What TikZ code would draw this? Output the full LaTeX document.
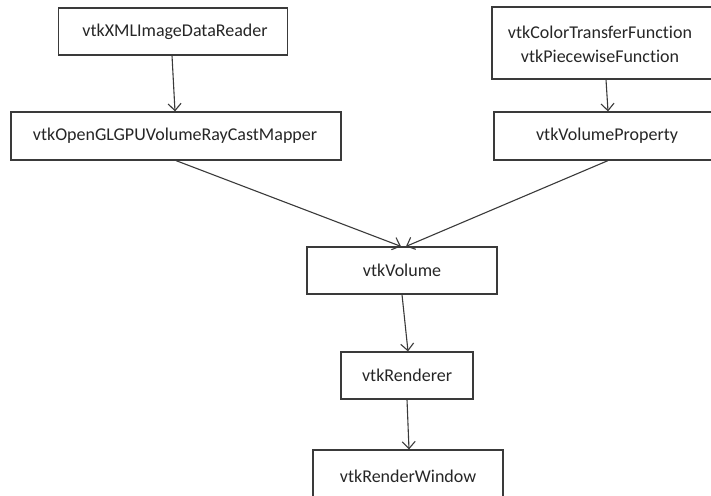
\documentclass[tikz,border=0pt]{standalone}
\usepackage{fontspec}
\setmainfont{Carlito}[Ligatures={NoCommon,NoRequired,NoContextual}]
\usetikzlibrary{arrows.meta}
\definecolor{edge}{HTML}{3A3A3A}
\tikzset{
  lbl/.style={font=\fontsize{18}{24}\selectfont,text=black!85,inner sep=0pt},
  box/.style={lbl,draw=edge,line width=1.2pt,fill=white},
  conn/.style={draw=edge,line width=1.1pt,-{Straight Barb[length=7pt,width=13pt,line width=1.1pt]}}}
\begin{document}
\begin{tikzpicture}[x=1pt,y=-1pt]
\useasboundingbox (0,0) rectangle (711,495);
\fill[white] (0,0) rectangle (711,495);
\node[box,minimum width=229pt,minimum height=47pt] (xml) at (173,31.5) {\hspace*{4pt}vtkXMLImageDataReader};
\node[box,minimum width=230pt,minimum height=72pt] (tf) at (607,43) {};
\node[lbl,align=center] (tftext) at (600,44.5) {vtkColorTransferFunction\\vtkPiecewiseFunction};
\node[box,minimum width=330pt,minimum height=48pt] (mapper) at (176,136) {\hspace*{-2pt}vtkOpenGLGPUVolumeRayCastMapper};
\node[box,minimum width=228pt,minimum height=48pt] (prop) at (608,136) {\hspace*{-2pt}vtkVolumeProperty};
\node[box,minimum width=190pt,minimum height=47pt] (vol) at (402,270.5) {vtkVolume};
\node[box,minimum width=132pt,minimum height=47pt] (ren) at (407,375.5) {vtkRenderer};
\node[box,minimum width=190pt,minimum height=56pt] (win) at (408,478) {\raisebox{4pt}{vtkRenderWindow}};
\draw[conn] ([xshift=-1pt]xml.south) -- ([xshift=-1pt]mapper.north);
\draw[conn] ([xshift=-1pt]tf.south) -- (prop.north);
\draw[conn] (mapper.south) -- ([xshift=-1pt]vol.north);
\draw[conn] (prop.south) -- ([xshift=4pt]vol.north);
\draw[conn] (vol.south) -- ([xshift=1pt]ren.north);
\draw[conn] (ren.south) -- ([xshift=1pt]win.north);
\end{tikzpicture}
\end{document}
